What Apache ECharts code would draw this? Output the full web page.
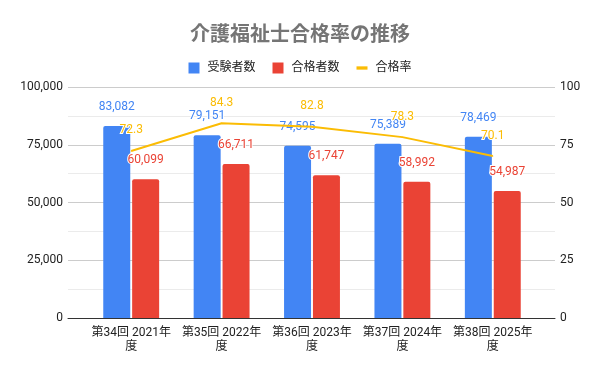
<!DOCTYPE html>
<html><head><meta charset="utf-8">
<script src="https://cdn.jsdelivr.net/npm/echarts@6/dist/echarts.min.js"></script>
<style>html,body{margin:0;padding:0;background:#fff}#c{width:600px;height:371px}</style>
</head><body><div id="c"></div>
<script>
const title = '介護福祉士合格率の推移';
const categories = ['第34回 2021年度','第35回 2022年度','第36回 2023年度','第37回 2024年度','第38回 2025年度'];
const examinees = [83082, 79151, 74595, 75389, 78469];
const passers = [60099, 66711, 61747, 58992, 54987];
const passRate = [72.3, 84.3, 82.8, 78.3, 70.1];
const leftTicks = [0, 25000, 50000, 75000, 100000];
const rightTicks = [0, 25, 50, 75, 100];

const FONT = 'Roboto, "Noto Sans CJK JP", sans-serif';
const BLUE = '#4285F4', RED = '#EA4335', YELLOW = '#FBBC04';
const fmt = v => Number(v).toLocaleString('en-US');
const chart = echarts.init(document.getElementById('c'));
chart.setOption({
  animation: false,
  textStyle: {fontFamily: FONT},
  title: {text: title, left: 'center', top: 21,
    textStyle: {fontSize: 20, fontWeight: 'bold', color: '#757575', fontFamily: FONT}},
  legend: {
    top: 57, left: 'center', itemWidth: 11, itemHeight: 11, itemGap: 17,
    textStyle: {fontSize: 12, color: '#222', fontFamily: FONT, padding: [0,0,0,3]},
    data: [
      {name: '受験者数', icon: 'rect'},
      {name: '合格者数', icon: 'rect'},
      {name: '合格率', icon: 'path://M0,0 L10,0 L10,3 L0,3 Z'}
    ]
  },
  grid: [
    {left: 68, right: 45, top: 87, bottom: 53},
    {left: 86, right: 62, top: 87, bottom: 53}
  ],
  xAxis: [
    {type: 'category', gridIndex: 0, data: [''],
      axisLine: {lineStyle: {color: '#333', width: 1}}, axisTick: {show: false}, axisLabel: {show: false}},
    {type: 'category', gridIndex: 1, data: categories,
      axisLine: {show: false}, axisTick: {show: false},
      axisLabel: {interval: 0, fontSize: 12, color: '#222', margin: 8, lineHeight: 14, fontFamily: FONT,
        formatter: s => s.slice(0, -1) + '\n' + s.slice(-1)}}
  ],
  yAxis: [
    {type: 'value', gridIndex: 0, min: leftTicks[0], max: leftTicks[leftTicks.length-1], interval: leftTicks[1]-leftTicks[0],
      axisLine: {show: false}, axisTick: {show: false},
      axisLabel: {fontSize: 12, color: '#222', margin: 5, formatter: fmt, fontFamily: FONT},
      splitLine: {lineStyle: {color: '#cccccc'}},
      minorTick: {show: false, splitNumber: 2},
      minorSplitLine: {show: true, lineStyle: {color: '#ebebeb'}}},
    {type: 'value', gridIndex: 0, position: 'right', min: rightTicks[0], max: rightTicks[rightTicks.length-1], interval: rightTicks[1]-rightTicks[0],
      axisLine: {show: false}, axisTick: {show: false}, splitLine: {show: false},
      axisLabel: {fontSize: 12, color: '#222', margin: 5, fontFamily: FONT}},
    {type: 'value', gridIndex: 1, min: leftTicks[0], max: leftTicks[leftTicks.length-1], show: false},
    {type: 'value', gridIndex: 1, min: rightTicks[0], max: rightTicks[rightTicks.length-1], show: false}
  ],
  series: [
    {name: '受験者数', type: 'bar', xAxisIndex: 1, yAxisIndex: 2, data: examinees,
      barWidth: 27, barGap: '7%',
      itemStyle: {color: BLUE, borderRadius: [2,2,0,0]},
      label: {show: true, position: 'top', distance: 13, color: BLUE, fontSize: 12, formatter: p => fmt(p.value),
        textBorderColor: '#fff', textBorderWidth: 2}},
    {name: '合格者数', type: 'bar', xAxisIndex: 1, yAxisIndex: 2, data: passers,
      barWidth: 27,
      itemStyle: {color: RED, borderRadius: [2,2,0,0]},
      label: {show: true, position: 'top', distance: 13, color: RED, fontSize: 12, formatter: p => fmt(p.value),
        textBorderColor: '#fff', textBorderWidth: 2}},
    {name: '合格率', type: 'line', xAxisIndex: 1, yAxisIndex: 3, data: passRate,
      symbol: 'circle', symbolSize: 1, showSymbol: true, z: 5,
      lineStyle: {color: YELLOW, width: 2}, itemStyle: {color: YELLOW},
      label: {show: true, position: 'top', distance: 14, color: YELLOW, fontSize: 12,
        textBorderColor: '#fff', textBorderWidth: 2}}
  ]
});
</script></body></html>
